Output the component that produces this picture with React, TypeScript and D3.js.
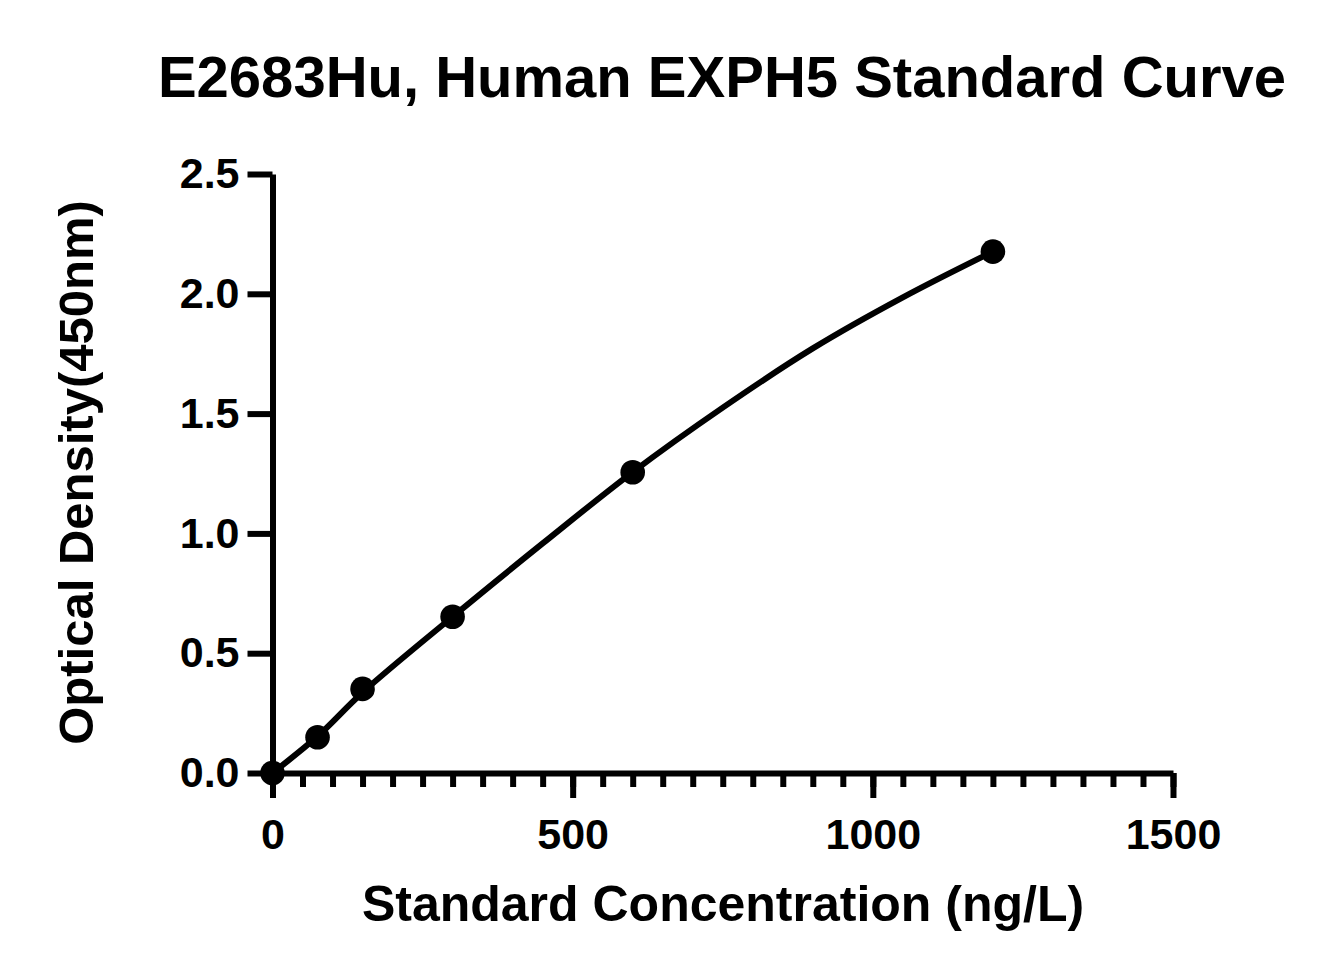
import { useEffect, useRef } from "react";
import * as d3 from "d3";

// measured standards
const concentrations = [0, 75, 150, 300, 600, 1200];
const odValues = [0.0, 0.149, 0.351, 0.652, 1.255, 2.176];

// fitted curve
const fitConc = [0, 75, 150, 300, 450, 600, 750, 900, 1050, 1200];
const fitOd = [0.0, 0.153, 0.336, 0.652, 0.958, 1.256, 1.525, 1.772, 1.985, 2.176];

const xTicks = [0, 500, 1000, 1500];
const xMinorTicks = d3.range(0, 1501, 50);
const yTicks = [0, 0.5, 1.0, 1.5, 2.0, 2.5];

const title = "E2683Hu, Human EXPH5 Standard Curve";
const xLabel = "Standard Concentration (ng/L)";
const yLabel = "Optical Density(450nm)";

const W = 1329;
const H = 975;
const FONT = "'Liberation Sans', Arial, Helvetica, sans-serif";

export default function App() {
  const svgRef = useRef<SVGSVGElement>(null);

  useEffect(() => {
    if (!svgRef.current) return;
    const svg = d3.select(svgRef.current);
    svg.selectAll("*").remove();

    const x = d3.scaleLinear().domain([0, 1500]).range([272.5, 1173]);
    const y = d3.scaleLinear().domain([0, 2.5]).range([773, 174]);

    const styleAxis = (g: d3.Selection<SVGGElement, unknown, null, undefined>) => {
      g.select(".domain").attr("stroke", "#000").attr("stroke-width", 6);
      g.selectAll(".tick line").attr("stroke", "#000").attr("stroke-width", 6);
      g.selectAll(".tick text")
        .attr("fill", "#000")
        .attr("font-family", FONT)
        .attr("font-weight", "bold")
        .attr("font-size", 43);
    };

    // x minor ticks
    svg.append("g")
      .attr("transform", `translate(0,${y(0)})`)
      .call(d3.axisBottom(x).tickValues(xMinorTicks).tickSize(14).tickSizeOuter(0).tickFormat(() => ""))
      .call(styleAxis)
      .call(g => g.select(".domain").remove());

    // x axis
    svg.append("g")
      .attr("transform", `translate(0,${y(0)})`)
      .call(d3.axisBottom(x).tickValues(xTicks).tickSize(25).tickSizeOuter(0).tickPadding(20).tickFormat(d3.format("d")))
      .call(styleAxis);

    // y axis
    svg.append("g")
      .attr("transform", `translate(${x(0)},0)`)
      .call(d3.axisLeft(y).tickValues(yTicks).tickSize(25).tickSizeOuter(0).tickPadding(8).tickFormat(d3.format(".1f")))
      .call(styleAxis);

    // fitted curve
    const line = d3.line<number>()
      .x((_, i) => x(fitConc[i]))
      .y(d => y(d))
      .curve(d3.curveCatmullRom.alpha(0.5));

    svg.append("path")
      .datum(fitOd)
      .attr("fill", "none")
      .attr("stroke", "#000")
      .attr("stroke-width", 6)
      .attr("stroke-linecap", "round")
      .attr("d", line);

    // points
    svg.append("g")
      .selectAll("circle")
      .data(odValues)
      .join("circle")
      .attr("cx", (_, i) => x(concentrations[i]))
      .attr("cy", d => y(d))
      .attr("r", 12.3)
      .attr("fill", "#000");

    // title
    svg.append("text")
      .attr("x", 722)
      .attr("y", 97)
      .attr("text-anchor", "middle")
      .attr("font-family", FONT)
      .attr("font-weight", "bold")
      .attr("font-size", 58)
      .text(title);

    // x label
    svg.append("text")
      .attr("x", 723)
      .attr("y", 921)
      .attr("text-anchor", "middle")
      .attr("font-family", FONT)
      .attr("font-weight", "bold")
      .attr("font-size", 50)
      .text(xLabel);

    // y label
    svg.append("text")
      .attr("transform", `translate(93,${(200 + 745) / 2}) rotate(-90)`)
      .attr("text-anchor", "middle")
      .attr("font-family", FONT)
      .attr("font-weight", "bold")
      .attr("font-size", 49)
      .text(yLabel);
  }, []);

  return (
    <svg
      ref={svgRef}
      width={W}
      height={H}
      style={{ position: "absolute", left: 0, top: 0, background: "#fff" }}
    />
  );
}
